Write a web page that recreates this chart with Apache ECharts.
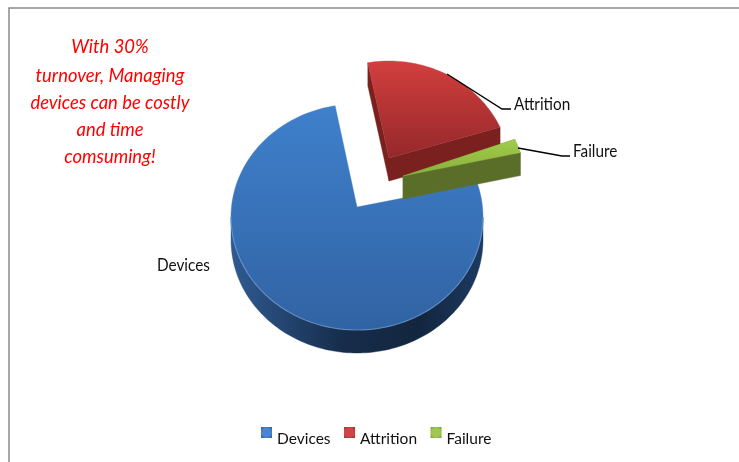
<!DOCTYPE html>
<html><head><meta charset="utf-8">
<style>html,body{margin:0;padding:0;background:#fff}#c{width:739px;height:462px}</style>
<script src="https://cdn.jsdelivr.net/npm/echarts@6/dist/echarts.min.js"></script>
</head><body><div id="c"></div>
<script>
const categories = ['Devices', 'Attrition', 'Failure'];
const values = [77, 21, 2];
const noteLines = ['With 30%', 'turnover, Managing', 'devices can be costly', 'and time', 'comsuming!'];

const FONT = 'Lato, "Open Sans", sans-serif';
const G = echarts.graphic.LinearGradient;
const grad = (a, b) => new G(0, 0, 0, 1, [{offset: 0, color: a}, {offset: 1, color: b}]);
const pie = {cx: 357, cy: 217, ry: 113, depth: 23, start: 72.8};
const styles = [
  {dx: 0, dy: 0, rx: 126, apexUp: 10,
   top: grad('#3f80cc', '#3163a3'),
   rim: new G(0, 0, 1, 0, [{offset: 0, color: '#2f5b92'}, {offset: .45, color: '#162c4a'}, {offset: .75, color: '#13263f'}, {offset: 1, color: '#1c3a60'}]),
   wall: '#13263f', radial: false, edge: 'rgba(125,165,220,0.55)', label: {x: 157, y: 266}},
  {dx: 32, dy: -43, rx: 122, apexUp: 16, top: grad('#d23f3e', '#95282a'), rim: '#7a201e', wall: '#7a201e', radial: true,
   label: {x: 514, y: 105}, line: [[447, 74], [502, 109], [511, 109]]},
  {dx: 46, dy: -31, rx: 123, apexUp: 10, top: grad('#a0cc4a', '#8ab03c'), rim: '#5a6e2a', wall: '#5a6e2a', radial: true,
   label: {x: 573, y: 152}, line: [[518, 148], [562, 156], [570, 156]]}
];
const total = values.reduce((a, b) => a + b, 0);
function sliceAngles(i) {
  let a = pie.start;
  for (let k = 0; k < i; k++) a += values[k] / total * 360;
  return [a, a + values[i] / total * 360];
}
function rimPoint(s, deg, down) {
  const t = deg * Math.PI / 180;
  return [pie.cx + s.dx + s.rx * Math.sin(t), pie.cy + s.dy + (down || 0) - pie.ry * Math.cos(t)];
}
function arc(s, a, b, down) {
  const pts = [], n = Math.max(2, Math.ceil((b - a) / 1.5));
  for (let j = 0; j <= n; j++) pts.push(rimPoint(s, a + (b - a) * j / n, down));
  return pts;
}
function renderSlice(i) {
  return function (params, api) {
    const s = styles[i], [a, b] = sliceAngles(i);
    const apex = [pie.cx + s.dx, pie.cy + s.dy - s.apexUp];
    const kids = [];
    const poly = (points, fill) => kids.push({type: 'polygon', shape: {points}, style: {fill, stroke: fill, lineWidth: .4}});
    if (s.radial) {
      const d = pie.depth, down = p => [p[0], p[1] + d];
      [a, b].forEach(ang => {
        const e = rimPoint(s, ang);
        poly([apex, e, down(e), down(apex)], s.wall);
      });
    }
    const la = Math.max(a, 90), lb = Math.min(b, 270);
    if (lb > la) poly(arc(s, la, lb).concat(arc(s, la, lb, pie.depth).reverse()), s.rim);
    poly([apex].concat(arc(s, a, b)), s.top);
    if (s.edge) kids.push({type: 'polyline', shape: {points: arc(s, la, lb)}, style: {stroke: s.edge, lineWidth: 1.2, fill: null}});
    if (s.line) kids.push({type: 'polyline', shape: {points: s.line}, style: {stroke: '#000', lineWidth: 1.4, fill: null}});
    kids.push({type: 'text', x: s.label.x, y: s.label.y, scaleX: .9, style: {text: categories[i], font: '17px ' + FONT, fill: '#111', textVerticalAlign: 'middle', textBaseline: 'middle'}});
    return {type: 'group', children: kids};
  };
}
const chart = echarts.init(document.getElementById('c'), null, {renderer: 'canvas'});
const bevel = (edge, mid) => new echarts.graphic.RadialGradient(.5, .23, .7, [{offset: 0, color: mid}, {offset: .55, color: mid}, {offset: 1, color: edge}]);
const legendColors = [bevel('#2a5c9c', '#4a86cf'), bevel('#9c2c2c', '#cf4545'), bevel('#74983a', '#a0c850')];
const seriesColors = ['#3f7dc4', '#c23a3a', '#94bd44'];
const raisedSquare = 'path://M0,0H12V12H0Z M0,26L0,26Z';
chart.setOption({
  animation: false,
  backgroundColor: '#fff',
  legend: {
    left: 256, top: 422, itemWidth: 11, itemHeight: 26, itemGap: 13.5,
    textStyle: {fontFamily: FONT, fontSize: 15.5, color: '#111'},
    data: categories.map((name, i) => ({name, icon: raisedSquare, itemStyle: {color: legendColors[i]}}))
  },
  series: categories.map((name, i) => ({
    type: 'custom', name, coordinateSystem: 'none', silent: true, clip: false,
    itemStyle: {color: seriesColors[i]},
    data: [[values[i]]],
    renderItem: renderSlice(i)
  })),
  graphic: [
    {type: 'polyline', shape: {points: [[9, 462], [9, 8], [739, 8]]}, style: {stroke: '#8a8a8a', lineWidth: 1.5, fill: null}},
    ...noteLines.map((t, i) => ({type: 'text', x: 110, y: [47, 76, 103, 130, 157][i], scaleX: .92,
      style: {text: t, font: 'italic 20px ' + FONT, fill: '#ff0000', textAlign: 'center', textVerticalAlign: 'middle', textBaseline: 'middle'}}))
  ]
});
</script></body></html>
